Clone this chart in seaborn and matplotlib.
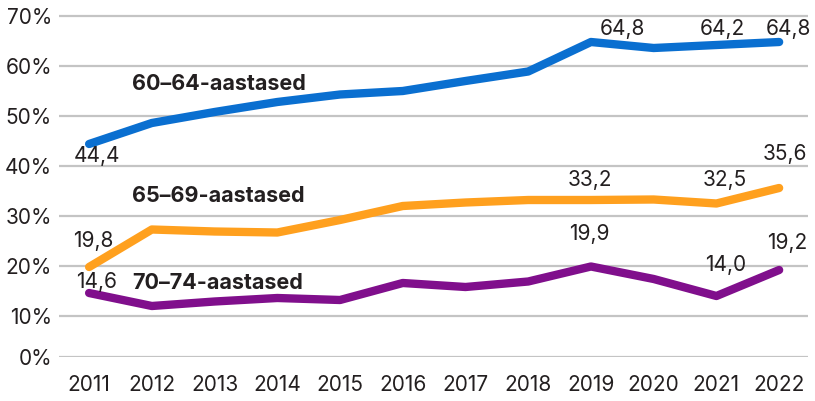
import matplotlib
matplotlib.use("Agg")
import matplotlib.pyplot as plt
import pandas as pd
import seaborn as sns

years = list(range(2011, 2023))
age_60_64 = [44.4, 48.6, 50.8, 52.8, 54.3, 55.0, 57.0, 58.9, 64.8, 63.6, 64.2, 64.8]
age_65_69 = [19.8, 27.3, 26.9, 26.7, 29.2, 32.0, 32.7, 33.2, 33.2, 33.3, 32.5, 35.6]
age_70_74 = [14.6, 12.0, 12.9, 13.6, 13.2, 16.6, 15.8, 16.9, 19.9, 17.4, 14.0, 19.2]

series_names = ["60–64-aastased", "65–69-aastased", "70–74-aastased"]
colors = ["#0a6fd0", "#ffa01e", "#800f8c"]
y_ticks = [0, 10, 20, 30, 40, 50, 60, 70]

# labelled points: (series index, year, text offset in px)
value_labels = [
    (0, 2011, 8, -12), (0, 2019, 31, 13), (0, 2021, 6, 16), (0, 2022, 9, 13),
    (1, 2011, 4, 26), (1, 2019, -1, 20), (1, 2021, 8, 23), (1, 2022, 6, 34),
    (2, 2011, 7, 11), (2, 2019, -2, 32), (2, 2021, 9, 31), (2, 2022, 8, 27),
]
name_pos = [56.4, 33.9, 16.6]

sns.set_theme(style="white")
plt.rcParams["font.family"] = ["Inter", "DejaVu Sans"]

values = [age_60_64, age_65_69, age_70_74]
df = pd.DataFrame({
    "year": years * 3,
    "value": age_60_64 + age_65_69 + age_70_74,
    "group": [n for n in series_names for _ in years],
})

fig = plt.figure(figsize=(8.15, 4.01), dpi=100)
ax = fig.add_axes([59 / 815, 44 / 401, 749 / 815, 346 / 401])

# the lowest gridline sits a bit above the true zero in the original
bottom = 1.8
for t in y_ticks:
    ax.axhline(t if t > 0 else bottom, color="#c4c4c4", linewidth=1.6, zorder=0)

sns.lineplot(
    data=df, x="year", y="value", hue="group", palette=colors,
    linewidth=6, legend=False, ax=ax, sort=False,
    solid_capstyle="round", solid_joinstyle="round",
)

ax.set_xlim(2010.52, 2022.46)
ax.set_ylim(bottom, 71)
ax.set_yticks([t if t > 0 else bottom for t in y_ticks])
ax.set_yticklabels([f"{t}%" for t in y_ticks])
ax.set_xticks(years)
ax.set_xticklabels([str(y) for y in years])
ax.tick_params(axis="both", length=0, labelsize=15, colors="#231f20")
ax.tick_params(axis="y", pad=5)
ax.tick_params(axis="x", pad=13)
ax.set_xlabel("")
ax.set_ylabel("")
for s in ax.spines.values():
    s.set_visible(False)

for i, name in enumerate(series_names):
    ax.text(2011.69, name_pos[i], name, fontsize=15.5, fontweight="bold",
            color="#231f20", ha="left", va="center")

for si, yr, dx, dy in value_labels:
    v = values[si][years.index(yr)]
    ax.annotate(f"{v:.1f}".replace(".", ","), (yr, v), xytext=(dx, dy),
                textcoords="offset pixels", ha="center", va="center",
                fontsize=15, color="#231f20")

fig.savefig("out.png", dpi=100)
